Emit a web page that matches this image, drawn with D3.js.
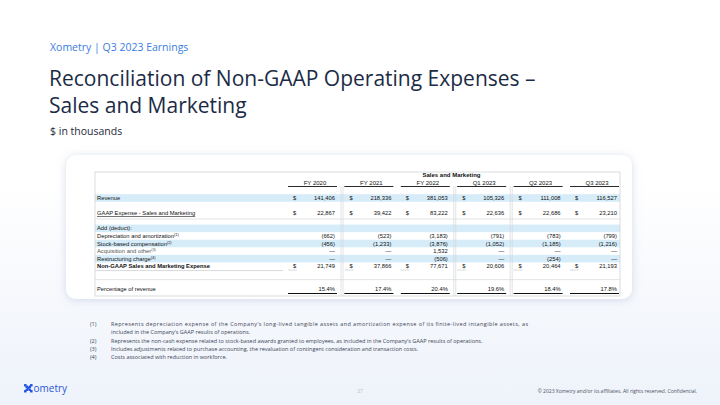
<!DOCTYPE html>
<html>
<head>
<meta charset="utf-8">
<script src="https://cdn.jsdelivr.net/npm/d3@7/dist/d3.min.js"></script>
<style>
  html, body { margin: 0; padding: 0; background: #fff; }
  svg { display: block; }
</style>
</head>
<body>
<svg id="slide"></svg>
<script>
// Sales and Marketing reconciliation, $ in thousands
var periods = ['FY 2020', 'FY 2021', 'FY 2022', 'Q1 2023', 'Q2 2023', 'Q3 2023'];
var revenue = [141406, 218336, 381053, 105326, 111008, 116527];
var gaapSM = [22867, 39422, 83222, 22636, 22686, 23210];
var depAmort = [-662, -523, -3183, -791, -783, -799];
var stockComp = [-456, -1233, -3876, -1052, -1185, -1216];
var acquisition = [0, 0, 1532, 0, 0, 0];
var restructuring = [0, 0, -506, 0, -254, 0];
var nonGaapSM = [21749, 37866, 77671, 20606, 20464, 21193];
var pctRevenue = [15.4, 17.4, 20.4, 19.6, 18.4, 17.8];

var footnotes = [
  ['(1)', 'Represents depreciation expense of the Company\u2019s long-lived tangible assets and amortization expense of its finite-lived intangible assets, as'],
  ['', 'included in the Company\u2019s GAAP results of operations.'],
  ['(2)', 'Represents the non-cash expense related to stock-based awards granted to employees, as included in the Company\u2019s GAAP results of operations.'],
  ['(3)', 'Includes adjustments related to purchase accounting, the revaluation of contingent consideration and transaction costs.'],
  ['(4)', 'Costs associated with reduction in workforce.']
];

var W = 720, H = 405;
var svg = d3.select('#slide').attr('width', W).attr('height', H);
var defs = svg.append('defs');

var bg = defs.append('linearGradient').attr('id', 'bg').attr('x1', 0).attr('y1', 0).attr('x2', 0).attr('y2', 1);
bg.append('stop').attr('offset', '0.45').attr('stop-color', '#ffffff');
bg.append('stop').attr('offset', '1').attr('stop-color', '#eef2fa');
svg.append('rect').attr('width', W).attr('height', H).attr('fill', 'url(#bg)');

var shadow = defs.append('filter').attr('id', 'shadow').attr('x', '-10%').attr('y', '-20%').attr('width', '120%').attr('height', '140%');
shadow.append('feDropShadow').attr('dx', 0).attr('dy', 1).attr('stdDeviation', 4)
  .attr('flood-color', '#8a9bbf').attr('flood-opacity', 0.35);

// header text
svg.append('text').attr('x', 50).attr('y', 51)
  .style('font', '10.5px "Open Sans"').attr('fill', '#3a7de0')
  .text('Xometry | Q3 2023 Earnings');

svg.append('text').attr('x', 49).attr('y', 86)
  .style('font', '21px "Open Sans"').attr('fill', '#1c2b45')
  .text('Reconciliation of Non-GAAP Operating Expenses \u2013');
svg.append('text').attr('x', 49).attr('y', 113)
  .style('font', '21px "Open Sans"').attr('fill', '#1c2b45')
  .text('Sales and Marketing');

svg.append('text').attr('x', 50).attr('y', 135)
  .style('font', '10.5px "Open Sans"').attr('fill', '#1f2a3a')
  .text('$ in thousands');

// card
svg.append('rect').attr('x', 66).attr('y', 155).attr('width', 566).attr('height', 144)
  .attr('rx', 10).attr('fill', '#fff').attr('filter', 'url(#shadow)');

// table
var rowKeys = ['revenue', 's1', 'gaap', 's2', 'add', 'da', 'sbc', 'acq', 'restr', 'nongaap', 's3', 's4', 'pct'];
var y = d3.scaleBand().domain(rowKeys).range([194.2, 292.8]);
var x = d3.scalePoint().domain(periods).range([335, 617]);
var tL = 95, tR = 620;

var rows = [
  {key: 'revenue', label: 'Revenue', vals: revenue, dollar: true, band: true},
  {key: 'gaap', label: 'GAAP Expense - Sales and Marketing', vals: gaapSM, dollar: true, underline: true},
  {key: 'add', label: 'Add (deduct):', vals: null, band: true},
  {key: 'da', label: 'Depreciation and amortization', sup: '(1)', vals: depAmort},
  {key: 'sbc', label: 'Stock-based compensation', sup: '(2)', vals: stockComp, band: true},
  {key: 'acq', label: 'Acquisition and other', sup: '(3)', vals: acquisition, faint: true},
  {key: 'restr', label: 'Restructuring charge', sup: '(4)', vals: restructuring, band: true},
  {key: 'nongaap', label: 'Non-GAAP Sales and Marketing Expense', vals: nonGaapSM, dollar: true, bold: true},
  {key: 'pct', label: 'Percentage of revenue', vals: pctRevenue, pct: true}
];

var tbl = svg.append('g');
var font = '"Liberation Sans", Arial, sans-serif';

tbl.selectAll('rect.band').data(rows.filter(function (r) { return r.band; }))
  .enter().append('rect').attr('class', 'band')
  .attr('x', tL).attr('width', tR - tL)
  .attr('y', function (d) { return y(d.key); })
  .attr('height', y.bandwidth())
  .attr('fill', '#d6ecf9');

// light grid
tbl.append('rect').attr('x', tL).attr('y', 172).attr('width', tR - tL).attr('height', 124)
  .attr('fill', 'none').attr('stroke', '#cfd3d6').attr('stroke-width', 0.8);
[0, 2, 3].forEach(function (i) {
  var cx = x(periods[i]) + 6;
  [0, 2].forEach(function (o) {
    tbl.append('line').attr('x1', cx + o).attr('x2', cx + o).attr('y1', 186).attr('y2', 296)
      .attr('stroke', '#d4d7da').attr('stroke-width', 0.7);
  });
});
tbl.append('line').attr('x1', tL).attr('x2', 283).attr('y1', y('nongaap') + y.bandwidth() + 0.5).attr('y2', y('nongaap') + y.bandwidth() + 0.5)
  .attr('stroke', '#c8ccd0').attr('stroke-width', 0.7);
tbl.append('line').attr('x1', tL).attr('x2', tR).attr('y1', y('s4') + 2).attr('y2', y('s4') + 2)
  .attr('stroke', '#d4d7da').attr('stroke-width', 0.7);
tbl.append('line').attr('x1', tL).attr('x2', tR).attr('y1', 219).attr('y2', 219)
  .attr('stroke', '#d4d7da').attr('stroke-width', 0.7);

// headers
tbl.append('text').attr('x', (283 + tR) / 2).attr('y', 177).attr('text-anchor', 'middle')
  .style('font', 'bold 6px ' + font).attr('fill', '#111').text('Sales and Marketing');

var cols = tbl.selectAll('g.col').data(periods).enter().append('g').attr('class', 'col');
cols.append('text').attr('x', function (d) { return x(d) - 20; }).attr('y', 184.5)
  .attr('text-anchor', 'middle').style('font', '6px ' + font).attr('fill', '#111')
  .text(function (d) { return d; });
cols.append('line').attr('x1', function (d) { return x(d) - 47; }).attr('x2', function (d) { return x(d) + 2; })
  .attr('y1', 186.5).attr('y2', 186.5).attr('stroke', '#111').attr('stroke-width', 0.9);
// underline under percentages
cols.append('line').attr('x1', function (d) { return x(d) - 47; }).attr('x2', function (d) { return x(d) + 2; })
  .attr('y1', 293.5).attr('y2', 293.5).attr('stroke', '#111').attr('stroke-width', 1);
// light rule above non-GAAP totals
cols.append('line').attr('x1', function (d) { return x(d) - 47; }).attr('x2', function (d) { return x(d) - 38; })
  .attr('y1', y('nongaap') + y.bandwidth()).attr('y2', y('nongaap') + y.bandwidth())
  .attr('stroke', '#c8ccd0').attr('stroke-width', 0.7);

var fmt = d3.format(',');
function cell(v, r) {
  if (r.pct) return v.toFixed(1) + '%';
  if (v === 0) return '\u2014';
  if (v < 0) return '(' + fmt(-v) + ')';
  return fmt(v);
}

var rowG = tbl.selectAll('g.row').data(rows).enter().append('g').attr('class', 'row')
  .attr('transform', function (d) { return 'translate(0,' + (y(d.key) + y.bandwidth() / 2 + 2) + ')'; });

var lbl = rowG.append('text').attr('x', tL + 2)
  .style('font', function (d) { return (d.bold ? 'bold ' : '') + '5.8px ' + font; })
  .attr('fill', function (d) { return d.faint ? '#555' : '#111'; })
  .attr('text-decoration', function (d) { return d.underline ? 'underline' : null; });
lbl.append('tspan').text(function (d) { return d.label; });
lbl.filter(function (d) { return d.sup; }).append('tspan')
  .attr('dy', -2).style('font-size', '3.8px').text(function (d) { return d.sup; });

rowG.filter(function (d) { return d.vals; }).each(function (r) {
  var g = d3.select(this);
  g.selectAll('text.v').data(r.vals).enter().append('text').attr('class', 'v')
    .attr('x', function (d, i) { return x(periods[i]); })
    .attr('text-anchor', 'end')
    .style('font', '5.8px ' + font).attr('fill', '#111')
    .text(function (d) { return cell(d, r); });
  if (r.dollar) {
    g.selectAll('text.d').data(r.vals).enter().append('text').attr('class', 'd')
      .attr('x', function (d, i) { return x(periods[i]) - 42; })
      .style('font', '5.8px ' + font).attr('fill', '#111').text('$');
  }
});

// footnotes
var fn = svg.append('g').selectAll('g').data(footnotes).enter().append('g')
  .attr('transform', function (d, i) { return 'translate(0,' + (326 + i * 8.3) + ')'; });
fn.append('text').attr('x', 90).style('font', '5.5px "Open Sans"').attr('fill', '#3c4658')
  .text(function (d) { return d[0]; });
fn.append('text').attr('x', 111).style('font', '5.5px "Open Sans"').attr('fill', '#3c4658')
  .attr('textLength', function (d, i) { return i === 0 ? 417 : null; })
  .attr('lengthAdjust', 'spacing')
  .text(function (d) { return d[1]; });

// footer
var logo = svg.append('g').attr('transform', 'translate(24,384)');
[[0, 0], [6, 0], [3, 3], [0, 6], [6, 6], [1.5, 1.5], [4.5, 1.5], [1.5, 4.5], [4.5, 4.5]].forEach(function (p) {
  logo.append('rect').attr('x', p[0]).attr('y', p[1]).attr('width', 2.6).attr('height', 2.6)
    .attr('rx', 0.6).attr('fill', '#2456e6');
});
logo.append('text').attr('x', 9.5).attr('y', 8.4).style('font', '10px "Open Sans"')
  .attr('fill', '#2a57d6').text('ometry');

svg.append('text').attr('x', 360).attr('y', 393).attr('text-anchor', 'middle')
  .style('font', '5px "Open Sans"').attr('fill', '#b8bfcc').text('27');
svg.append('text').attr('x', 697).attr('y', 393).attr('text-anchor', 'end')
  .style('font', '5px "Open Sans"').attr('fill', '#4a5262')
  .text('\u00a9 2023 Xometry and/or its affiliates. All rights reserved. Confidential.');
</script>
</body>
</html>
